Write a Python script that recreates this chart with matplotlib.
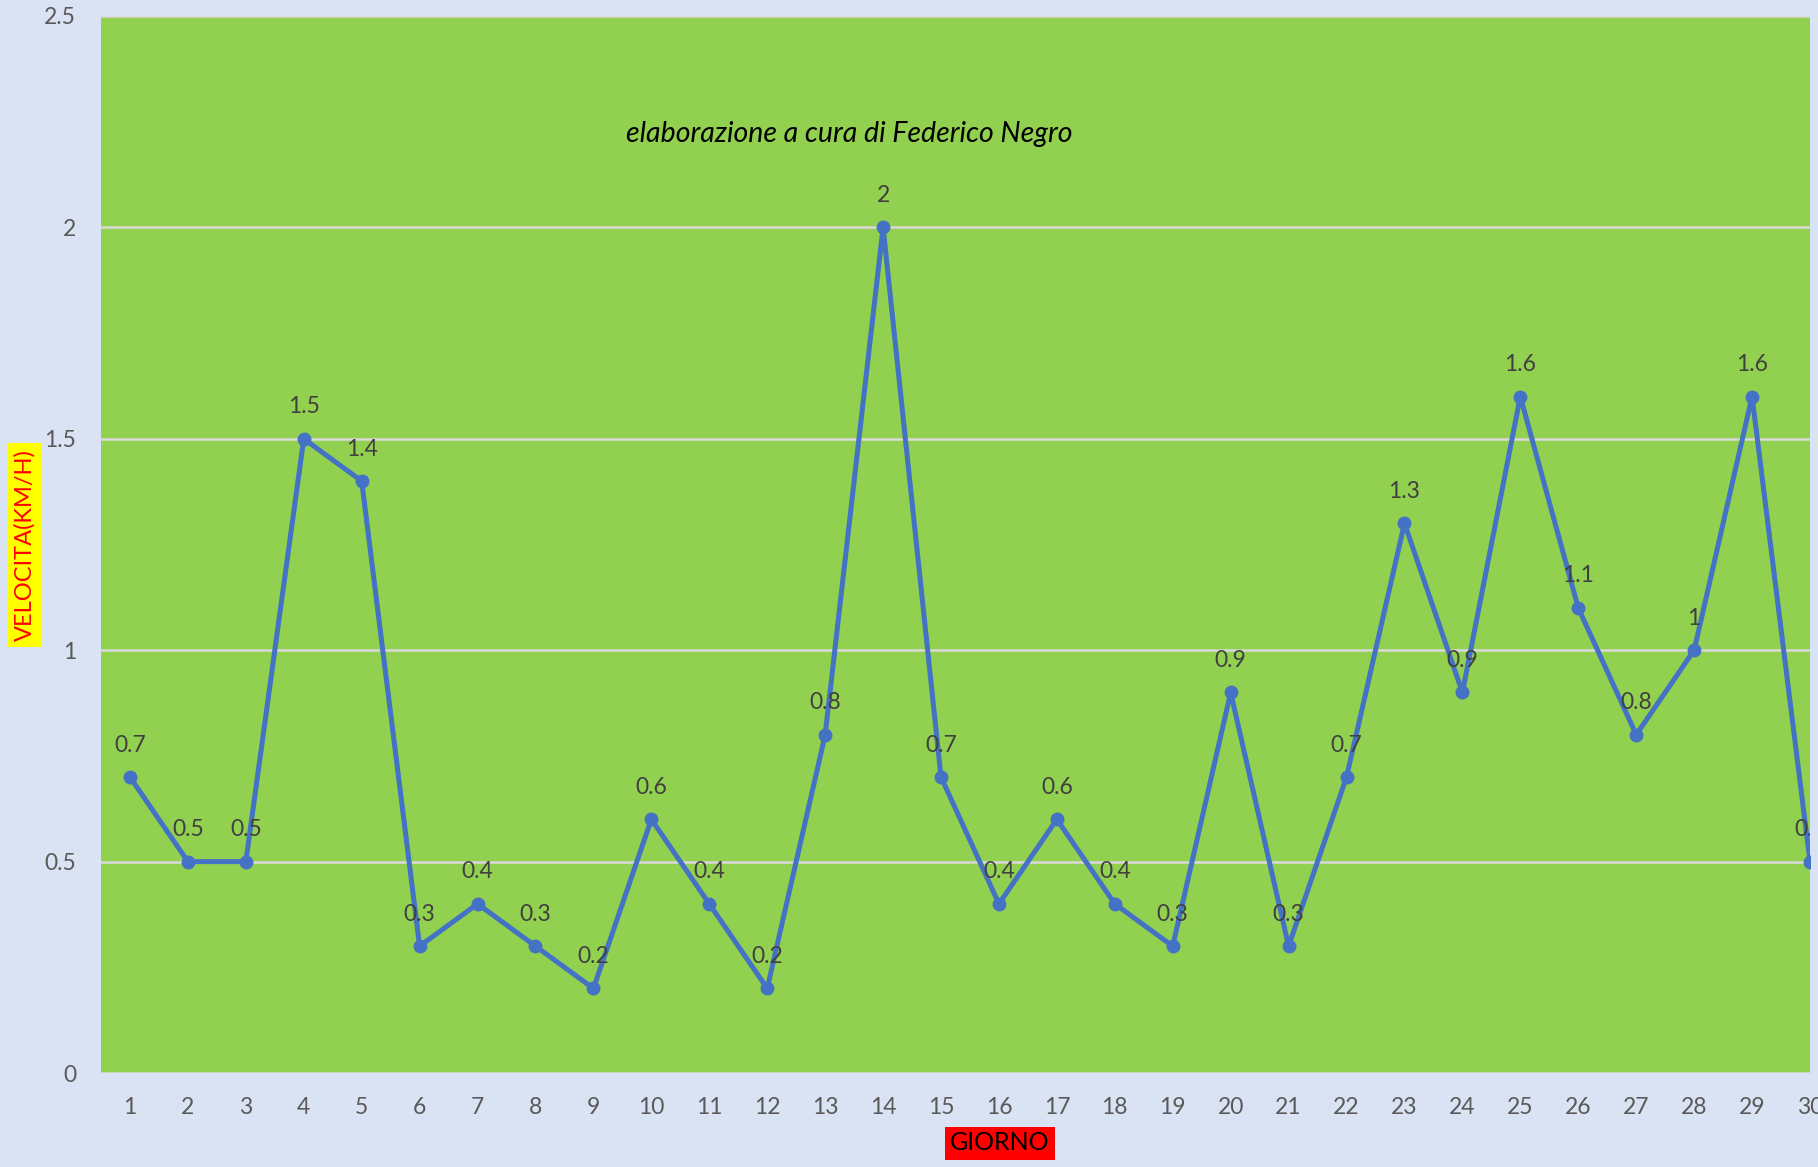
import matplotlib.pyplot as plt

# dati
giorni = list(range(1, 31))
velocita = [0.7, 0.5, 0.5, 1.5, 1.4, 0.3, 0.4, 0.3, 0.2, 0.6,
            0.4, 0.2, 0.8, 2, 0.7, 0.4, 0.6, 0.4, 0.3, 0.9,
            0.3, 0.7, 1.3, 0.9, 1.6, 1.1, 0.8, 1, 1.6, 0.5]
etichette = ['0.7', '0.5', '0.5', '1.5', '1.4', '0.3', '0.4', '0.3', '0.2', '0.6',
             '0.4', '0.2', '0.8', '2', '0.7', '0.4', '0.6', '0.4', '0.3', '0.9',
             '0.3', '0.7', '1.3', '0.9', '1.6', '1.1', '0.8', '1', '1.6', '0.5']
y_ticks = [0, 0.5, 1, 1.5, 2, 2.5]
y_tick_labels = ['0', '0.5', '1', '1.5', '2', '2.5']

plt.rcParams['font.family'] = ['Lato', 'DejaVu Sans']

W, H = 1818, 1167
fig = plt.figure(figsize=(W / 100, H / 100), dpi=100, facecolor='#DAE3F3')
# area del grafico (pixel: sinistra 101, destra 1810, alto 16, basso 1073)
ax = fig.add_axes([101 / W, 1 - 1073 / H, (1810 - 101) / W, (1073 - 16) / H])
ax.set_facecolor('#92D050')

ax.plot(giorni, velocita, color='#4472C4', linewidth=3.6, marker='o', markersize=9,
        zorder=3, clip_on=True)

for x, y, t in zip(giorni, velocita, etichette):
    ax.annotate(t, (x, y), xytext=(0, 23), textcoords='offset points',
                ha='center', va='center', fontsize=16.5, color='#404040',
                annotation_clip=False, clip_on=True)

ax.set_xlim(0.5, 30.0)
ax.set_ylim(0, 2.5)
ax.set_xticks(giorni)
ax.set_xticklabels([str(g) for g in giorni])
ax.set_yticks(y_ticks)
ax.set_yticklabels(y_tick_labels)
ax.tick_params(axis='both', length=0, labelsize=16.5, labelcolor='#595959')
ax.tick_params(axis='x', pad=17)
ax.tick_params(axis='y', pad=18)

ax.grid(axis='y', color='#D9D9D9', linewidth=1.8, zorder=1)
ax.set_axisbelow(True)
for s in ax.spines.values():
    s.set_visible(False)

fig.text(849 / W, 1 - 134 / H, 'elaborazione a cura di Federico Negro',
         ha='center', va='center', fontsize=20.5, style='italic', color='black')

# etichette degli assi
fig.text(25 / W, 1 - 545 / H, 'VELOCITA(KM/H)', rotation=90, ha='center', va='center',
         fontsize=17, color='red',
         bbox=dict(facecolor='yellow', edgecolor='none', boxstyle='square,pad=0.25'))
fig.text(1000 / W, 1 - 1143 / H, 'GIORNO', ha='center', va='center', fontsize=18,
         color='black',
         bbox=dict(facecolor='red', edgecolor='none', boxstyle='square,pad=0.2'))

plt.savefig('out.png', dpi=100, facecolor=fig.get_facecolor())
